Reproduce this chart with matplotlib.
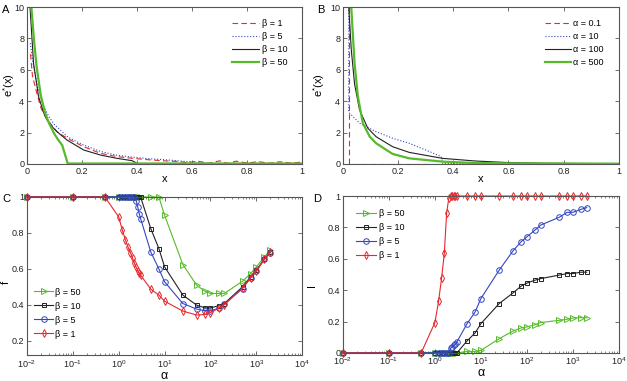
import matplotlib
matplotlib.use('Agg')
import matplotlib.pyplot as plt
import numpy as np

plt.rcParams['font.family'] = ['Liberation Sans', 'DejaVu Sans']
plt.rcParams['mathtext.fontset'] = 'custom'
plt.rcParams['mathtext.rm'] = 'Liberation Sans'
plt.rcParams['mathtext.it'] = 'Liberation Sans:italic'
plt.rcParams['font.size'] = 6.5

# panel A: e*(x) for several beta
xa_b1 = [0.013, 0.02, 0.036, 0.05, 0.067, 0.08, 0.109, 0.15, 0.206, 0.267, 0.327, 0.39, 0.448, 0.5,
         0.55, 0.58, 0.62, 0.66, 0.7, 0.73, 0.76, 0.8, 0.84, 0.88, 0.92, 0.96, 1.0]
ya_b1 = [7.0, 5.6, 4.5, 3.6, 3.0, 2.7, 2.06, 1.6, 1.1, 0.68, 0.47, 0.35, 0.26, 0.2,
         0.16, 0.08, 0.18, 0.05, 0.2, 0.04, 0.18, 0.06, 0.15, 0.05, 0.14, 0.06, 0.12]
xa_b5 = [0.012, 0.024, 0.04, 0.06, 0.08, 0.1, 0.15, 0.2, 0.267, 0.33, 0.388, 0.45, 0.51, 0.57, 0.63, 0.66, 1.0]
ya_b5 = [7.7, 6.2, 4.8, 3.7, 3.0, 2.5, 1.7, 1.25, 0.8, 0.55, 0.43, 0.33, 0.26, 0.17, 0.09, 0.03, 0.03]
xa_b10 = [0.011, 0.024, 0.042, 0.06, 0.073, 0.09, 0.109, 0.145, 0.206, 0.267, 0.327, 0.382, 0.394, 0.40, 1.0]
ya_b10 = [10.0, 6.4, 4.3, 3.3, 2.8, 2.4, 2.06, 1.53, 0.89, 0.57, 0.36, 0.21, 0.1, 0.03, 0.03]
xa_b50 = [0.016, 0.025, 0.035, 0.05, 0.065, 0.08, 0.1, 0.115, 0.128, 0.148, 1.0]
ya_b50 = [10.0, 8.0, 6.2, 4.4, 3.3, 2.6, 1.9, 1.5, 1.2, 0.03, 0.03]

# panel B: e*(x) for several alpha
xb_a01 = [0.022, 0.022, 1.0]
yb_a01 = [10.0, 0.03, 0.03]
xb_a10 = [0.021, 0.021, 0.06, 0.12, 0.18, 0.24, 0.30, 0.356, 0.362, 1.0]
yb_a10 = [10.0, 3.3, 2.6, 2.06, 1.64, 1.32, 0.89, 0.47, 0.03, 0.03]
xb_a100 = [0.021, 0.03, 0.042, 0.06, 0.09, 0.12, 0.18, 0.24, 0.36, 0.48, 0.6, 0.72, 0.85, 1.0]
yb_a100 = [10.0, 7.3, 5.1, 3.45, 2.28, 1.74, 1.1, 0.74, 0.36, 0.19, 0.09, 0.05, 0.03, 0.02]
xb_a500 = [0.03, 0.042, 0.054, 0.072, 0.097, 0.12, 0.18, 0.24, 0.36, 0.48, 0.6, 1.0]
yb_a500 = [10.0, 6.4, 4.3, 2.6, 1.74, 1.32, 0.64, 0.36, 0.15, 0.06, 0.04, 0.02]

# panels C and D: f and I against alpha
alpha = [0.01, 0.1, 0.5, 1, 1.2, 1.4, 1.6, 1.8, 2, 2.2, 2.4, 2.6, 2.8, 3, 5, 7.5, 10,
         25, 50, 75, 100, 150, 200, 500, 750, 1000, 1500, 2000]
f_b1 = [1, 1, 1, 0.889, 0.815, 0.76, 0.72, 0.69, 0.66, 0.63, 0.61, 0.59, 0.575, 0.565, 0.487, 0.454, 0.42,
        0.365, 0.343, 0.346, 0.357, 0.38, 0.40, 0.494, 0.55, 0.59, 0.654, 0.694]
f_b5 = [1, 1, 1, 1, 1, 1, 1, 1, 1, 1, 0.98, 0.944, 0.907, 0.88, 0.694, 0.60, 0.528,
        0.407, 0.376, 0.367, 0.367, 0.38, 0.404, 0.49, 0.55, 0.587, 0.654, 0.69]
f_b10 = [1, 1, 1, 1, 1, 1, 1, 1, 1, 1, 1, 1, 1, 1, 0.824, 0.713, 0.611,
         0.454, 0.398, 0.383, 0.383, 0.394, 0.407, 0.5, 0.556, 0.593, 0.654, 0.694]
f_b50 = [1, 1, 1, 1, 1, 1, 1, 1, 1, 1, 1, 1, 1, 1, 1, 1, 0.898,
         0.624, 0.509, 0.476, 0.463, 0.463, 0.463, 0.531, 0.574, 0.611, 0.667, 0.704]
I_b1 = [0, 0, 0, 0.194, 0.33, 0.48, 0.635, 0.894, 0.985, 1, 1, 1, 1, 1, 1, 1, 1,
        1, 1, 1, 1, 1, 1, 1, 1, 1, 1, 1]
I_b5 = [0, 0, 0, 0, 0, 0, 0, 0, 0, 0.03, 0.04, 0.05, 0.055, 0.07, 0.187, 0.262, 0.347,
        0.528, 0.651, 0.709, 0.74, 0.783, 0.815, 0.864, 0.896, 0.896, 0.915, 0.926]
I_b10 = [0, 0, 0, 0, 0, 0, 0, 0, 0, 0, 0, 0, 0, 0, 0.077, 0.128, 0.187,
         0.315, 0.383, 0.426, 0.445, 0.464, 0.474, 0.496, 0.506, 0.506, 0.515, 0.515]
I_b50 = [0, 0, 0, 0, 0, 0, 0, 0, 0, 0, 0, 0, 0, 0, 0.01, 0.01, 0.017,
         0.091, 0.14, 0.16, 0.166, 0.18, 0.194, 0.208, 0.215, 0.223, 0.225, 0.225]

red = '#e8282c'
blue = '#3346c4'
black = '#222222'
green = '#55bb2a'

fig = plt.figure(figsize=(6.27, 3.81), dpi=100)
axA = fig.add_axes([0.043, 0.5696, 0.439, 0.412])
axB = fig.add_axes([0.547, 0.5696, 0.440, 0.412])
axC = fig.add_axes([0.043, 0.068, 0.439, 0.415])
axD = fig.add_axes([0.547, 0.0735, 0.440, 0.412])


def style(ax):
    for s in ax.spines.values():
        s.set_color('#555555')
        s.set_linewidth(0.8)
    ax.tick_params(direction='in', top=True, right=True, length=3, width=0.6,
                   colors='#555555', labelcolor='#222222', labelsize=6.5, pad=2)
    ax.tick_params(which='minor', direction='in', top=True, right=True, length=1.6,
                   width=0.5, colors='#555555')


def leg(ax, x, y, hl, spacing):
    lg = ax.legend(loc='upper left', bbox_to_anchor=(x, y), bbox_transform=fig.transFigure,
                   frameon=False, fontsize=6.5, handlelength=hl, handletextpad=0.3,
                   labelspacing=spacing, borderpad=0, borderaxespad=0)
    return lg


# A
axA.plot(xa_b1, ya_b1, '--', color=red, lw=0.8, dashes=(5, 3), label='β = 1')
axA.plot(xa_b5, ya_b5, ':', color=blue, lw=0.8, label='β = 5')
axA.plot(xa_b10, ya_b10, '-', color=black, lw=0.8, label='β = 10')
axA.plot(xa_b50, ya_b50, '-', color=green, lw=1.6, label='β = 50')
axA.set_xlim(0, 1)
axA.set_ylim(0, 10)
axA.set_xticks(np.arange(0, 1.01, 0.2))
axA.set_xticklabels(['0', '0.2', '0.4', '0.6', '0.8', '1'])
axA.set_yticks(np.arange(0, 11, 2))
axA.set_xlabel('x', fontsize=8, labelpad=-1)
axA.set_ylabel(r'e$^{*}$(x)', fontsize=8)
axA.yaxis.set_label_coords(-0.038, 0.5)
style(axA)
leg(axA, 0.37, 0.95, 3.0, 0.45)

# B
axB.plot(xb_a01, yb_a01, '--', color=red, lw=0.8, dashes=(5, 3), label='α = 0.1')
axB.plot(xb_a10, yb_a10, ':', color=blue, lw=0.8, label='α = 10')
axB.plot(xb_a100, yb_a100, '-', color=black, lw=0.8, label='α = 100')
axB.plot(xb_a500, yb_a500, '-', color=green, lw=1.6, label='α = 500')
axB.set_xlim(0, 1)
axB.set_ylim(0, 10)
axB.set_xticks(np.arange(0, 1.01, 0.2))
axB.set_xticklabels(['0', '0.2', '0.4', '0.6', '0.8', '1'])
axB.set_yticks(np.arange(0, 11, 2))
axB.set_xlabel('x', fontsize=8, labelpad=-1)
axB.set_ylabel(r'e$^{*}$(x)', fontsize=8)
axB.yaxis.set_label_coords(-0.058, 0.5)
style(axB)
leg(axB, 0.87, 0.95, 2.8, 0.45)

mk = dict(markersize=4, markerfacecolor='none', markeredgewidth=0.7, lw=0.8, clip_on=False)

# C
axC.plot(alpha, f_b50, '->', color=green, label='β = 50', **mk)
axC.plot(alpha, f_b10, '-s', color=black, label='β = 10', **dict(mk, markersize=3.5))
axC.plot(alpha, f_b5, '-o', color=blue, label='β = 5', **mk)
axC.plot(alpha, f_b1, '-d', color=red, label='β = 1', **mk)
axC.set_xscale('log')
axC.set_xlim(1e-2, 1e4)
axC.set_ylim(0.12, 1.0)
axC.set_yticks([0.2, 0.4, 0.6, 0.8, 1.0])
axC.set_yticklabels(['0.2', '0.4', '0.6', '0.8', '1'])
axC.set_xlabel('α', fontsize=9, labelpad=0)
axC.set_ylabel('f', fontsize=8)
axC.yaxis.set_label_coords(-0.058, 0.46)
style(axC)
leg(axC, 0.055, 0.245, 2.0, 0.55)

# D
axD.plot(alpha, I_b50, '->', color=green, label='β = 50', **mk)
axD.plot(alpha, I_b10, '-s', color=black, label='β = 10', **dict(mk, markersize=3.5))
axD.plot(alpha, I_b5, '-o', color=blue, label='β = 5', **mk)
axD.plot(alpha, I_b1, '-d', color=red, label='β = 1', **mk)
axD.set_xscale('log')
axD.set_xlim(1e-2, 1e4)
axD.set_ylim(0, 1.0)
axD.set_yticks([0, 0.2, 0.4, 0.6, 0.8, 1.0])
axD.set_yticklabels(['0', '0.2', '0.4', '0.6', '0.8', '1'])
axD.set_xlabel('α', fontsize=9, labelpad=0)
axD.set_ylabel('I', fontsize=8)
axD.yaxis.set_label_coords(-0.094, 0.43)
style(axD)
leg(axD, 0.568, 0.452, 2.2, 0.55)

fig.text(0.003, 0.965, 'A', fontsize=8)
fig.text(0.505, 0.965, 'B', fontsize=8)
fig.text(0.003, 0.47, 'C', fontsize=8)
fig.text(0.499, 0.47, 'D', fontsize=8)

fig.savefig('out.png', dpi=100)
